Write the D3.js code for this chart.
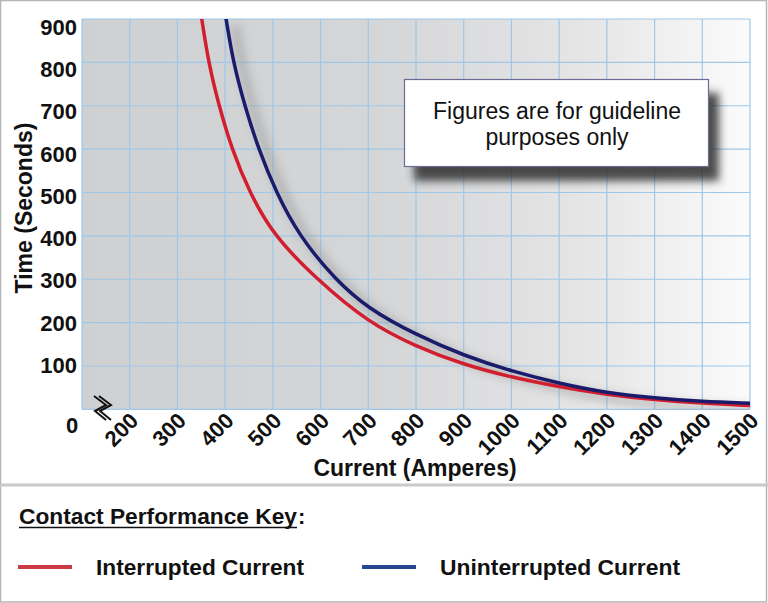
<!DOCTYPE html>
<html lang="en">
<head>
<meta charset="UTF-8">
<title>Contact Performance</title>
<script src="https://cdnjs.cloudflare.com/ajax/libs/d3/7.8.5/d3.min.js"></script>
<style>
    body { margin: 0; background: #fff; }
    svg { display: block; font-family: "Liberation Sans", Arial, sans-serif; }
    .grid line { stroke: #9dc8ea; stroke-width: 1.2; }
    .tick-label { font-size: 22px; font-weight: bold; fill: #111; }
    .axis-title { font-size: 23px; font-weight: bold; fill: #111; }
    .curve { fill: none; stroke-width: 3.5; stroke-linecap: round; }
    .key-text { font-size: 22px; font-weight: bold; fill: #111; }
</style>
</head>
<body>
<svg id="chart" width="768" height="603"></svg>
<script>
// values (current in A, time in s)
const interrupted = [
    [351, 900], [365, 800], [387, 700], [414, 600], [451, 500], [502, 400],
    [592, 300], [700, 200], [800, 145], [900, 103], [1000, 74], [1100, 52],
    [1200, 34], [1300, 22], [1400, 14], [1500, 9]
];
const uninterrupted = [
    [402, 900], [417, 800], [441, 700], [470, 600], [507, 500], [555, 400],
    [630, 300], [700, 232], [800, 172], [900, 124], [1000, 88], [1100, 60],
    [1200, 38], [1300, 26], [1400, 18], [1500, 14]
];
const xTicks = [200, 300, 400, 500, 600, 700, 800, 900, 1000, 1100, 1200, 1300, 1400, 1500];
const yTicks = [100, 200, 300, 400, 500, 600, 700, 800, 900];
const noteLines = ["Figures are for guideline", "purposes only"];
const keyItems = [
    { label: "Interrupted Current", color: "#cc3a45" },
    { label: "Uninterrupted Current", color: "#2b4690" }
];

const svg = d3.select("#chart");
const pLeft = 82, pRight = 750, pTop = 19, pBottom = 409.4;

const x = d3.scaleLinear().domain([100, 1500]).range([pLeft, pRight]);
const y = d3.scaleLinear().domain([0, 900]).range([pBottom, pTop]);
// labels on the left sit on a slightly tighter spacing than the grid
const yLabel = d3.scaleLinear().domain([100, 900]).range([365, 27]);

const defs = svg.append("defs");
const bg = defs.append("linearGradient").attr("id", "plotBg")
    .attr("x1", "0%").attr("x2", "100%").attr("y1", "0%").attr("y2", "0%");
bg.append("stop").attr("offset", "0%").attr("stop-color", "#cfd0d2");
bg.append("stop").attr("offset", "45%").attr("stop-color", "#d5d6d8");
bg.append("stop").attr("offset", "75%").attr("stop-color", "#e5e5e6");
bg.append("stop").attr("offset", "100%").attr("stop-color", "#fbfbfb");
defs.append("filter").attr("id", "blur").attr("x", "-20%").attr("y", "-20%")
    .attr("width", "140%").attr("height", "140%")
    .append("feGaussianBlur").attr("stdDeviation", 5);
defs.append("filter").attr("id", "blurSoft").attr("x", "-20%").attr("y", "-20%")
    .attr("width", "140%").attr("height", "140%")
    .append("feGaussianBlur").attr("stdDeviation", 4);
defs.append("clipPath").attr("id", "plotClip")
    .append("rect").attr("x", pLeft).attr("y", pTop)
    .attr("width", pRight - pLeft).attr("height", pBottom - pTop);

// outer frame and the separator above the key
svg.append("rect").attr("x", 0.5).attr("y", 0.5).attr("width", 766).attr("height", 601.5)
    .attr("fill", "none").attr("stroke", "#b5b5b5").attr("stroke-width", 1.5);
svg.append("line").attr("x1", 0).attr("x2", 768).attr("y1", 485).attr("y2", 485)
    .attr("stroke", "#c9c9c9").attr("stroke-width", 3);

// plot background
svg.append("rect").attr("x", pLeft).attr("y", pTop)
    .attr("width", pRight - pLeft).attr("height", pBottom - pTop)
    .attr("fill", "url(#plotBg)");

// grid
const grid = svg.append("g").attr("class", "grid");
grid.selectAll(".v").data([100].concat(xTicks)).enter().append("line")
    .attr("x1", d => x(d)).attr("x2", d => x(d))
    .attr("y1", pTop).attr("y2", pBottom);
grid.selectAll(".h").data([0].concat(yTicks)).enter().append("line")
    .attr("x1", pLeft).attr("x2", pRight)
    .attr("y1", d => y(d)).attr("y2", d => y(d));

const line = d3.line()
    .x(d => x(d[0]))
    .y(d => y(d[1]))
    .curve(d3.curveBasis);

// soft shadow under the curves
const plot = svg.append("g").attr("clip-path", "url(#plotClip)");
plot.append("path")
    .attr("d", line(uninterrupted))
    .attr("transform", "translate(9,7)")
    .attr("fill", "none").attr("stroke", "#8a8a8a").attr("stroke-width", 9)
    .attr("opacity", 0.45).attr("filter", "url(#blur)");

plot.append("path").attr("class", "curve")
    .attr("d", line(interrupted)).attr("stroke", "#d21f30");
plot.append("path").attr("class", "curve")
    .attr("d", line(uninterrupted)).attr("stroke", "#1b1b6c");

// note box
svg.append("rect").attr("x", 414).attr("y", 93).attr("width", 305).attr("height", 88)
    .attr("fill", "#2e2e2e").attr("opacity", 0.85).attr("filter", "url(#blurSoft)");
svg.append("rect").attr("x", 404.5).attr("y", 79.5).attr("width", 304).attr("height", 87)
    .attr("fill", "#fff").attr("stroke", "#6b6b98").attr("stroke-width", 1.2);
svg.append("g").selectAll("text").data(noteLines).enter().append("text")
    .attr("x", 557).attr("y", (d, i) => 119 + i * 26)
    .attr("text-anchor", "middle")
    .attr("font-size", "23px").attr("fill", "#111")
    .text(d => d);

// y tick labels
svg.append("g").selectAll("text").data(yTicks).enter().append("text")
    .attr("class", "tick-label")
    .attr("x", 77).attr("y", d => yLabel(d))
    .attr("dy", "0.36em").attr("text-anchor", "end")
    .text(d => d);
svg.append("text").attr("class", "tick-label")
    .attr("x", 72).attr("y", 425).attr("dy", "0.36em").attr("text-anchor", "middle")
    .text("0");

// x tick labels, rotated
svg.append("g").selectAll("text").data(xTicks).enter().append("text")
    .attr("class", "tick-label")
    .attr("transform", d => `translate(${x(d) + 10},422) rotate(-45)`)
    .attr("text-anchor", "end")
    .text(d => d);

// axis break mark
const brk = svg.append("g").attr("fill", "none").attr("stroke", "#111")
    .attr("stroke-width", 2).attr("stroke-linejoin", "miter");
[0, 5].forEach(off => {
    brk.append("polyline")
        .attr("points", [[94 + off, 396], [106 + off, 405], [95 + off, 411], [106 + off, 420]]
            .map(p => p.join(",")).join(" "));
});

// axis titles
svg.append("text").attr("class", "axis-title")
    .attr("x", 415).attr("y", 476).attr("text-anchor", "middle")
    .text("Current (Amperes)");
svg.append("text").attr("class", "axis-title")
    .attr("transform", "translate(32,208) rotate(-90)")
    .attr("text-anchor", "middle")
    .text("Time (Seconds)");

// key
const key = svg.append("g");
key.append("text").attr("class", "key-text")
    .attr("x", 19).attr("y", 524)
    .attr("textLength", 278).attr("lengthAdjust", "spacingAndGlyphs")
    .text("Contact Performance Key");
key.append("text").attr("class", "key-text")
    .attr("x", 298).attr("y", 524).text(":");
key.append("line").attr("x1", 19).attr("x2", 297).attr("y1", 527.5).attr("y2", 527.5)
    .attr("stroke", "#111").attr("stroke-width", 1.6);

const keyX = [18, 362];
const textW = [208, 240];
const items = key.selectAll(".item").data(keyItems).enter().append("g")
    .attr("transform", (d, i) => `translate(${keyX[i]},0)`);
items.append("line").attr("x1", 0).attr("x2", 54).attr("y1", 567).attr("y2", 567)
    .attr("stroke", d => d.color).attr("stroke-width", 4);
items.append("text").attr("class", "key-text")
    .attr("x", 78).attr("y", 575)
    .attr("textLength", (d, i) => textW[i]).attr("lengthAdjust", "spacingAndGlyphs")
    .text(d => d.label);
</script>
</body>
</html>
